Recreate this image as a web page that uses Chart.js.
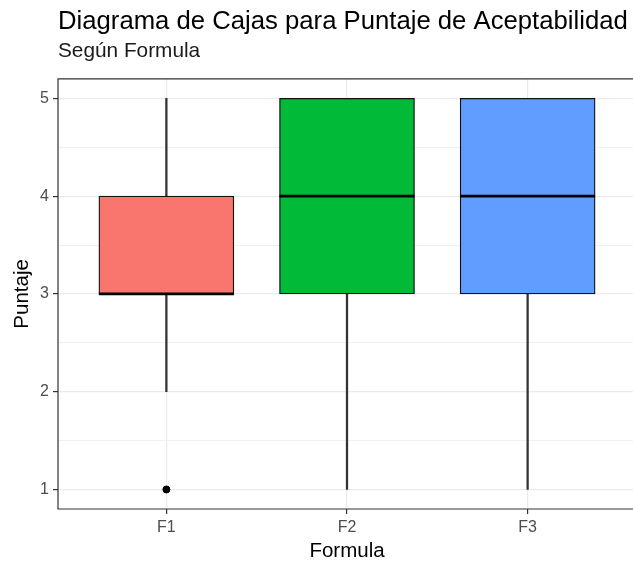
<!DOCTYPE html>
<html>
<head>
<meta charset="utf-8">
<script src="https://cdn.jsdelivr.net/npm/chart.js@4.4.1/dist/chart.umd.min.js"></script>
<style>
  html, body { margin: 0; padding: 0; background: #fff; overflow: hidden; }
  #wrap { width: 636px; height: 562px; position: relative; }
</style>
</head>
<body>
<div id="wrap"><canvas id="chartCajas"></canvas></div>
<script>
// datos
const formulas = ["F1", "F2", "F3"];
const bigoteMin = [2, 1, 1];
const q1 = [3, 3, 3];
const medianas = [3, 4, 4];
const q3 = [4, 5, 5];
const bigoteMax = [5, 5, 5];
const atipicoFormula = ["F1"];
const atipicoValor = [1];
const yTicks = [1, 2, 3, 4, 5];
const colores = ["#F8766D", "#00BA38", "#619CFF"];

Chart.defaults.font.family = "'Liberation Sans', Arial, sans-serif";
Chart.defaults.color = "#4D4D4D";

const idx = (f) => formulas.indexOf(f);

// y ticks: mayores + menores (puntos medios)
const yMinor = yTicks.slice(1).map((v, i) => (v + yTicks[i]) / 2);
const yAll = yTicks.concat(yMinor).sort((a, b) => a - b);
const esMayor = (v) => yTicks.includes(v);

// borde del panel (el lado derecho queda fuera de la imagen)
const panelBorde = {
  id: "panelBorde",
  afterDraw(chart) {
    const { ctx, chartArea: a } = chart;
    ctx.save();
    ctx.strokeStyle = "#333333";
    ctx.lineWidth = 1.2;
    ctx.beginPath();
    ctx.moveTo(a.right + 5, a.top);
    ctx.lineTo(a.left, a.top);
    ctx.lineTo(a.left, a.bottom);
    ctx.lineTo(a.right + 5, a.bottom);
    ctx.stroke();
    ctx.restore();
  },
};

const data = {
  datasets: [
    {
      type: "line",
      label: "atipicos",
      data: atipicoFormula.map((f, i) => ({ x: idx(f), y: atipicoValor[i] })),
      showLine: false,
      pointStyle: "circle",
      pointRadius: 3.5,
      backgroundColor: "#000",
      borderColor: "#000",
      order: 1,
    },
    {
      type: "line",
      label: "mediana",
      data: formulas.map((f, i) => ({ x: i, y: medianas[i] })),
      showLine: false,
      pointStyle: "line",
      pointRadius: 67.5,
      borderColor: "#000",
      pointBorderWidth: 2.8,
      order: 2,
    },
    {
      type: "bar",
      label: "cajas",
      data: formulas.map((f, i) => ({ x: i, y: [q1[i], q3[i]] })),
      backgroundColor: colores,
      borderColor: "#111111",
      borderWidth: 1.3,
      borderSkipped: false,
      barThickness: 135,
      grouped: false,
      order: 3,
    },
    {
      type: "bar",
      label: "bigotes",
      data: formulas.map((f, i) => ({ x: i, y: [bigoteMin[i], bigoteMax[i]] })),
      backgroundColor: "#333333",
      borderWidth: 0,
      barThickness: 1.6,
      grouped: false,
      order: 4,
    },
  ],
};

const config = {
  data,
  options: {
    responsive: true,
    maintainAspectRatio: false,
    animation: false,
    layout: { padding: 0, autoPadding: false },
    plugins: {
      legend: { display: false },
      tooltip: { enabled: false },
      title: {
        display: true,
        text: "Diagrama de Cajas para Puntaje de Aceptabilidad",
        align: "start",
        fullSize: false,
        color: "#000",
        font: { size: 25.7, weight: "normal", lineHeight: 1.2 },
        padding: { top: 6, bottom: 2 },
      },
      subtitle: {
        display: true,
        text: "Según Formula",
        align: "start",
        fullSize: false,
        color: "#1a1a1a",
        font: { size: 20.8, weight: "normal", lineHeight: 1.2 },
        padding: { top: 0, bottom: 15 },
      },
    },
    scales: {
      x: {
        type: "linear",
        min: -0.6,
        max: 2.6,
        offset: false,
        afterBuildTicks: (s) => { s.ticks = formulas.map((f, i) => ({ value: i })); },
        afterFit: (s) => { s.height = 53; },
        ticks: {
          callback: (v) => formulas[v],
          font: { size: 16 },
          color: "#4D4D4D",
          padding: 4,
        },
        grid: {
          offset: false,
          color: "#EBEBEB",
          lineWidth: 1.2,
          tickColor: "#333333",
          tickLength: 5,
          tickWidth: 1.2,
        },
        border: { display: false },
        title: {
          display: true,
          text: "Formula",
          color: "#000",
          font: { size: 20.5, lineHeight: 1 },
          padding: 0,
        },
      },
      y: {
        min: 0.8,
        max: 5.2,
        afterBuildTicks: (s) => { s.ticks = yAll.map((v) => ({ value: v })); },
        afterFit: (s) => { s.width = 58; },
        ticks: {
          callback: (v) => (esMayor(v) ? String(v) : ""),
          font: { size: 16 },
          color: "#4D4D4D",
          padding: 4,
        },
        grid: {
          color: "#EBEBEB",
          lineWidth: (c) => (c.tick && esMayor(c.tick.value) ? 1.2 : 0.7),
          tickColor: (c) => (c.tick && esMayor(c.tick.value) ? "#333333" : "rgba(0,0,0,0)"),
          tickLength: 5,
          tickWidth: 1.2,
        },
        border: { display: false },
        title: {
          display: true,
          text: "Puntaje",
          color: "#000",
          font: { size: 20.5, lineHeight: 1.2 },
          padding: { top: 10, bottom: 0 },
        },
      },
    },
  },
  plugins: [panelBorde],
};

const chartCajas = new Chart(document.getElementById("chartCajas"), config);
</script>
</body>
</html>
